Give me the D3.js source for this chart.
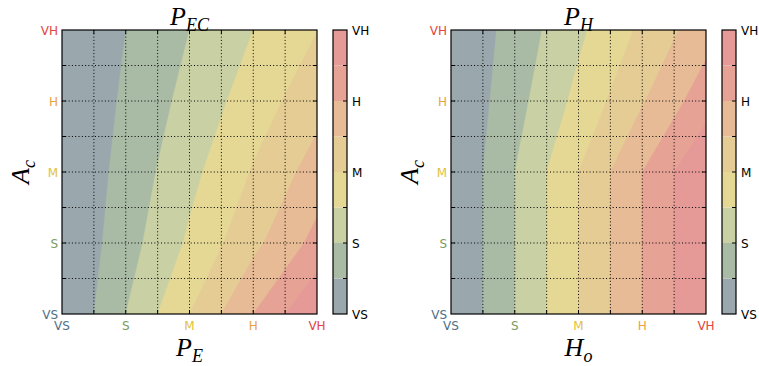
<!DOCTYPE html>
<html>
<head>
<meta charset="utf-8">
<script src="https://cdn.jsdelivr.net/npm/d3@7"></script>
<style>
  body { margin: 0; background: #fff; }
  text { font-family: "DejaVu Sans", sans-serif; }
  .math { font-family: "Liberation Serif", serif; font-style: italic; }
</style>
</head>
<body>
<div id="chart"></div>
<script>
// linguistic levels used on every axis
var levels = ["VS", "S", "M", "H", "VH"];
var levelValues = [0, 1, 2, 3, 4];
var levelColors = ["#4f6f86", "#7a9c62", "#e2c23c", "#e9a244", "#e2443e"];

// colour bands of the filled contours (one per 0.5 step)
var bandEdges = [0, 0.5, 1, 1.5, 2, 2.5, 3, 3.5, 4];
var bandColors = ["#9aa8ae", "#aabba5", "#c9d0a3", "#e5d895", "#e5cc95", "#e6bb95", "#e6a395", "#e69a98"];

// P_EC read at the grid points: rows = A_c (VS..VH), cols = P_E (VS..VH)
var pEC = [
  [0.00, 1.00, 2.00, 3.00, 4.00],
  [0.00, 0.79, 1.58, 2.37, 3.16],
  [0.00, 0.68, 1.36, 2.04, 2.72],
  [0.00, 0.58, 1.16, 1.74, 2.32],
  [0.00, 0.50, 1.00, 1.50, 1.99]
];

// P_H read at the grid points: rows = A_c (VS..VH), cols = H_o (VS..VH)
var pH = [
  [0.00, 1.00, 2.00, 3.00, 4.00],
  [0.00, 1.00, 2.00, 3.00, 4.00],
  [0.00, 1.00, 2.00, 3.00, 4.00],
  [0.00, 0.82, 1.64, 2.46, 3.28],
  [0.00, 0.70, 1.40, 2.10, 2.80]
];

var W = 759, H = 366;
var top_ = 30, bottom_ = 314;

var svg = d3.select("#chart").append("svg")
  .attr("width", W)
  .attr("height", H);

var panels = [
  { id: "a", left: 62, right: 317, cbLeft: 333, cbRight: 347, values: pEC,
    title: ["P", "EC"], xlab: ["P", "E"], ylab: ["A", "c"] },
  { id: "b", left: 451, right: 706, cbLeft: 722, cbRight: 736, values: pH,
    title: ["P", "H"], xlab: ["H", "o"], ylab: ["A", "c"] }
];

function mathLabel(g, parts, x, y, anchor) {
  var t = g.append("text")
    .attr("class", "math")
    .attr("x", x)
    .attr("y", y)
    .attr("text-anchor", anchor || "middle")
    .attr("font-size", 26)
    .attr("fill", "#000");
  t.append("tspan").text(parts[0]);
  t.append("tspan").attr("font-size", 18).attr("dy", 6).text(parts[1]);
  return t;
}

panels.forEach(function(p) {
  var x = d3.scaleLinear().domain([0, 4]).range([p.left, p.right]);
  var y = d3.scaleLinear().domain([0, 4]).range([bottom_, top_]);
  var g = svg.append("g");

  svg.append("clipPath").attr("id", "clip-" + p.id)
    .append("rect")
    .attr("x", p.left).attr("y", top_)
    .attr("width", p.right - p.left).attr("height", bottom_ - top_);

  // filled contours; grid value i sits at contour coordinate i + 0.5
  var n = p.values.length;
  var flat = [];
  p.values.forEach(function(row) { row.forEach(function(v) { flat.push(v); }); });
  var contours = d3.contours()
    .size([n, n])
    .thresholds(bandEdges.slice(0, 8))(flat);

  var proj = d3.geoTransform({
    point: function(px, py) {
      this.stream.point(x(px - 0.5), y(py - 0.5));
    }
  });
  var path = d3.geoPath(proj);

  g.append("g")
    .attr("clip-path", "url(#clip-" + p.id + ")")
    .selectAll("path")
    .data(contours)
    .enter()
    .append("path")
    .attr("d", path)
    .attr("fill", function(d, i) { return bandColors[i]; })
    .attr("stroke", function(d, i) { return bandColors[i]; })
    .attr("stroke-width", 0.5);

  // dotted grid
  var gridVals = d3.range(0.5, 4, 0.5);
  g.selectAll(".gx")
    .data(gridVals).enter()
    .append("line")
    .attr("x1", function(d) { return x(d); })
    .attr("x2", function(d) { return x(d); })
    .attr("y1", top_).attr("y2", bottom_)
    .attr("stroke", "#000").attr("stroke-width", 1)
    .attr("stroke-dasharray", "1,2.3");
  g.selectAll(".gy")
    .data(gridVals).enter()
    .append("line")
    .attr("y1", function(d) { return y(d); })
    .attr("y2", function(d) { return y(d); })
    .attr("x1", p.left).attr("x2", p.right)
    .attr("stroke", "#000").attr("stroke-width", 1)
    .attr("stroke-dasharray", "1,2.3");

  // inward ticks on all four sides
  var tk = 4;
  gridVals.forEach(function(v) {
    g.append("line").attr("x1", x(v)).attr("x2", x(v)).attr("y1", bottom_).attr("y2", bottom_ - tk).attr("stroke", "#000");
    g.append("line").attr("x1", x(v)).attr("x2", x(v)).attr("y1", top_).attr("y2", top_ + tk).attr("stroke", "#000");
    g.append("line").attr("y1", y(v)).attr("y2", y(v)).attr("x1", p.left).attr("x2", p.left + tk).attr("stroke", "#000");
    g.append("line").attr("y1", y(v)).attr("y2", y(v)).attr("x1", p.right).attr("x2", p.right - tk).attr("stroke", "#000");
  });

  // frame
  g.append("rect")
    .attr("x", p.left).attr("y", top_)
    .attr("width", p.right - p.left).attr("height", bottom_ - top_)
    .attr("fill", "none").attr("stroke", "#000").attr("stroke-width", 1.2);

  // tick labels
  g.selectAll(".xl")
    .data(levelValues).enter()
    .append("text")
    .attr("x", function(d) { return x(d); })
    .attr("y", bottom_ + 16)
    .attr("text-anchor", "middle")
    .attr("font-size", 12)
    .attr("fill", function(d, i) { return levelColors[i]; })
    .text(function(d, i) { return levels[i]; });
  g.selectAll(".yl")
    .data(levelValues).enter()
    .append("text")
    .attr("x", p.left - 4)
    .attr("y", function(d) { return y(d) + 4.5; })
    .attr("text-anchor", "end")
    .attr("font-size", 12)
    .attr("fill", function(d, i) { return levelColors[i]; })
    .text(function(d, i) { return levels[i]; });

  // colorbar
  var cb = svg.append("g");
  cb.selectAll("rect.band")
    .data(bandColors).enter()
    .append("rect")
    .attr("x", p.cbLeft)
    .attr("y", function(d, i) { return y(bandEdges[i + 1]); })
    .attr("width", p.cbRight - p.cbLeft)
    .attr("height", function(d, i) { return y(bandEdges[i]) - y(bandEdges[i + 1]); })
    .attr("fill", function(d) { return d; });
  bandEdges.slice(1, 8).forEach(function(v) {
    cb.append("line").attr("x1", p.cbRight).attr("x2", p.cbRight - 4)
      .attr("y1", y(v)).attr("y2", y(v)).attr("stroke", "#000");
  });
  cb.append("rect")
    .attr("x", p.cbLeft).attr("y", top_)
    .attr("width", p.cbRight - p.cbLeft).attr("height", bottom_ - top_)
    .attr("fill", "none").attr("stroke", "#000").attr("stroke-width", 1.2);
  cb.selectAll(".cl")
    .data(levelValues).enter()
    .append("text")
    .attr("x", p.cbRight + 5)
    .attr("y", function(d) { return y(d) + 4.5; })
    .attr("font-size", 12)
    .attr("fill", "#000")
    .text(function(d, i) { return levels[i]; });

  // title and axis labels
  var cx = (p.left + p.right) / 2;
  mathLabel(svg, p.title, cx, 25);
  mathLabel(svg, p.xlab, cx, 356);
  var yl = svg.append("g").attr("transform", "translate(" + (p.left - 33) + "," + 172 + ")rotate(-90)");
  mathLabel(yl, p.ylab, 0, 0);
});
</script>
</body>
</html>
